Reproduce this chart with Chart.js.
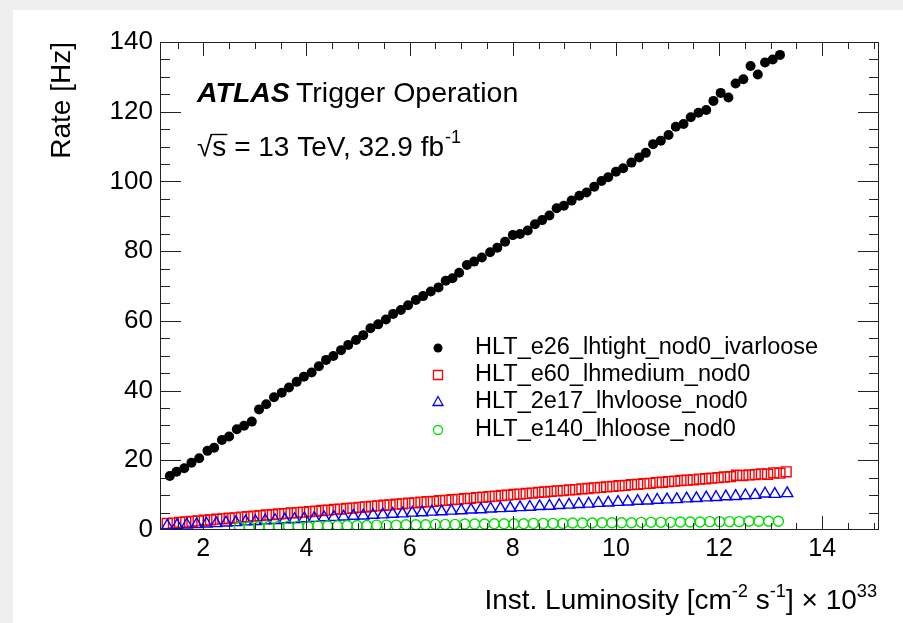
<!DOCTYPE html>
<html>
<head>
<meta charset="utf-8">
<script src="https://cdn.jsdelivr.net/npm/chart.js@4.4.1/dist/chart.umd.min.js"></script>
<style>
  html, body { margin: 0; padding: 0; background: #efefef; }
  canvas { display: block; }
</style>
</head>
<body>
<canvas id="taxa-lumi" width="903" height="623"></canvas>
<script>
// valores (luminosidade x 10^33, taxa em Hz)
const lumiTight = [1.35, 1.48, 1.63, 1.77, 1.92, 2.08, 2.21, 2.36, 2.50, 2.65,
  2.79, 2.94, 3.08, 3.22, 3.37, 3.52, 3.66, 3.81, 3.95, 4.10,
  4.24, 4.38, 4.52, 4.67, 4.81, 4.96, 5.10, 5.24, 5.39, 5.54,
  5.68, 5.83, 5.97, 6.12, 6.26, 6.41, 6.56, 6.70, 6.83, 6.96,
  7.11, 7.25, 7.40, 7.56, 7.70, 7.85, 8.00, 8.14, 8.29, 8.43,
  8.57, 8.71, 8.85, 8.99, 9.14, 9.29, 9.43, 9.58, 9.72, 9.85,
  10.00, 10.14, 10.30, 10.45, 10.58, 10.72, 10.87, 11.02, 11.16, 11.31,
  11.45, 11.60, 11.75, 11.89, 12.03, 12.18, 12.32, 12.47, 12.61, 12.75,
  12.89, 13.04, 13.18];
const rateTight = [15.5, 16.7, 17.7, 19.3, 20.6, 22.7, 23.6, 25.8, 26.8, 28.9,
  29.9, 31.1, 34.6, 36.1, 38.1, 39.4, 40.9, 42.5, 44.0, 45.2,
  47.0, 48.8, 49.9, 51.6, 53.1, 54.5, 55.9, 57.9, 59.0, 60.4,
  62.0, 63.1, 64.5, 66.0, 67.1, 68.4, 69.6, 71.5, 72.2, 73.8,
  76.0, 77.0, 78.2, 79.7, 81.0, 82.7, 84.6, 84.9, 85.9, 87.7,
  88.9, 90.2, 92.3, 93.0, 94.5, 95.9, 96.8, 98.5, 100.1, 101.2,
  102.8, 103.8, 105.4, 106.9, 108.2, 110.7, 111.7, 113.3, 115.7, 116.5,
  118.4, 119.7, 120.5, 123.1, 125.4, 124.1, 128.1, 129.3, 133.1, 130.7,
  134.1, 135.0, 136.3];

const lumiMedium = [1.30, 1.42, 1.54, 1.66, 1.78, 1.90, 2.02, 2.14, 2.26, 2.38,
  2.50, 2.62, 2.74, 2.86, 2.98, 3.10, 3.22, 3.34, 3.46, 3.58,
  3.70, 3.82, 3.94, 4.06, 4.18, 4.30, 4.42, 4.54, 4.66, 4.78,
  4.90, 5.02, 5.14, 5.26, 5.38, 5.50, 5.62, 5.74, 5.86, 5.98,
  6.10, 6.22, 6.34, 6.46, 6.58, 6.70, 6.82, 6.94, 7.06, 7.18,
  7.30, 7.42, 7.54, 7.66, 7.78, 7.90, 8.02, 8.14, 8.26, 8.38,
  8.50, 8.62, 8.74, 8.86, 8.98, 9.10, 9.22, 9.34, 9.46, 9.58,
  9.70, 9.82, 9.94, 10.06, 10.18, 10.30, 10.42, 10.54, 10.66, 10.78,
  10.90, 11.02, 11.14, 11.26, 11.38, 11.50, 11.62, 11.74, 11.86, 11.98,
  12.10, 12.22, 12.34, 12.46, 12.58, 12.70, 12.82, 12.94, 13.06, 13.18,
  13.30];
const rateMedium = [1.9, 2.0, 2.2, 2.3, 2.5, 2.6, 2.8, 2.9, 3.1, 3.2,
  3.4, 3.5, 3.7, 3.8, 4.0, 4.1, 4.3, 4.4, 4.6, 4.7,
  4.9, 5.0, 5.1, 5.3, 5.4, 5.6, 5.7, 5.9, 6.0, 6.2,
  6.3, 6.5, 6.6, 6.8, 6.9, 7.1, 7.2, 7.4, 7.5, 7.7,
  7.8, 8.0, 8.1, 8.2, 8.4, 8.5, 8.7, 8.8, 9.0, 9.1,
  9.3, 9.4, 9.6, 9.7, 9.9, 10.0, 10.2, 10.3, 10.5, 10.6,
  10.8, 10.9, 11.1, 11.2, 11.3, 11.5, 11.6, 11.8, 11.9, 12.1,
  12.2, 12.4, 12.5, 12.7, 12.8, 13.0, 13.1, 13.3, 13.4, 13.6,
  13.7, 13.9, 14.0, 14.2, 14.3, 14.4, 14.6, 14.7, 14.9, 15.0,
  15.2, 15.3, 15.7, 15.6, 15.8, 15.9, 16.1, 16.0, 16.4, 16.3,
  16.7];

const lumiVloose = [1.30, 1.49, 1.68, 1.87, 2.06, 2.25, 2.44, 2.63, 2.82, 3.01,
  3.20, 3.39, 3.58, 3.77, 3.96, 4.15, 4.34, 4.53, 4.72, 4.91,
  5.10, 5.29, 5.48, 5.67, 5.86, 6.05, 6.24, 6.43, 6.62, 6.81,
  7.00, 7.19, 7.38, 7.57, 7.76, 7.95, 8.14, 8.33, 8.52, 8.71,
  8.90, 9.09, 9.28, 9.47, 9.66, 9.85, 10.04, 10.23, 10.42, 10.61,
  10.80, 10.99, 11.18, 11.37, 11.56, 11.75, 11.94, 12.13, 12.32, 12.51,
  12.70, 12.89, 13.08, 13.32];
const rateVloose = [1.2, 1.3, 1.5, 1.6, 1.8, 1.9, 2.1, 2.2, 2.4, 2.5,
  2.7, 2.8, 3.0, 3.1, 3.3, 3.4, 3.6, 3.7, 3.8, 4.0,
  4.1, 4.3, 4.4, 4.6, 4.7, 4.9, 5.0, 5.2, 5.3, 5.5,
  5.6, 5.8, 5.9, 6.1, 6.2, 6.3, 6.5, 6.6, 6.8, 6.9,
  7.1, 7.2, 7.4, 7.5, 7.7, 7.8, 8.0, 8.1, 8.3, 8.4,
  8.6, 8.7, 8.8, 9.0, 9.1, 9.3, 9.4, 9.6, 9.7, 9.9,
  10.0, 10.4, 10.3, 10.5];

const lumiLoose = [2.70, 2.89, 3.08, 3.27, 3.46, 3.65, 3.84, 4.03, 4.22, 4.41,
  4.60, 4.79, 4.98, 5.17, 5.36, 5.55, 5.74, 5.93, 6.12, 6.31,
  6.50, 6.69, 6.88, 7.07, 7.26, 7.45, 7.64, 7.83, 8.02, 8.21,
  8.40, 8.59, 8.78, 8.97, 9.16, 9.35, 9.54, 9.73, 9.92, 10.11,
  10.30, 10.49, 10.68, 10.87, 11.06, 11.25, 11.44, 11.63, 11.82, 12.01,
  12.20, 12.39, 12.58, 12.77, 12.96, 13.15];
const rateLoose = [0.9, 0.9, 1.0, 1.0, 1.0, 1.1, 1.1, 1.1, 1.2, 1.2,
  1.2, 1.3, 1.3, 1.3, 1.4, 1.4, 1.4, 1.5, 1.5, 1.5,
  1.6, 1.6, 1.6, 1.7, 1.7, 1.7, 1.8, 1.8, 1.8, 1.8,
  1.9, 1.9, 1.9, 1.9, 2.0, 2.0, 2.0, 2.1, 2.1, 2.1,
  2.1, 2.2, 2.2, 2.2, 2.2, 2.3, 2.3, 2.3, 2.4, 2.4,
  2.4, 2.4, 2.5, 2.5, 2.5, 2.5];

const nomes = ['HLT_e26_lhtight_nod0_ivarloose', 'HLT_e60_lhmedium_nod0',
  'HLT_2e17_lhvloose_nod0', 'HLT_e140_lhloose_nod0'];
const ticksX = [2, 4, 6, 8, 10, 12, 14];
const ticksY = [0, 20, 40, 60, 80, 100, 120, 140];

const FONTE = "'Liberation Sans', Arial, Helvetica, sans-serif";
const cores = ['#000000', '#ff0000', '#0000ff', '#00dd00'];

function pares(xs, ys) {
  return xs.map((v, i) => ({ x: v, y: ys[i] }));
}

// marcador da legenda, no mesmo estilo dos pontos
function marcador(ctx, tipo, x, y, cor) {
  ctx.save();
  ctx.strokeStyle = cor;
  ctx.fillStyle = cor;
  ctx.lineWidth = 1.3;
  ctx.beginPath();
  if (tipo === 'ponto') {
    ctx.arc(x, y, 4.5, 0, Math.PI * 2);
    ctx.fill();
  } else if (tipo === 'quadrado') {
    ctx.rect(x - 4.5, y - 4.5, 9, 9);
    ctx.stroke();
  } else if (tipo === 'triangulo') {
    ctx.moveTo(x, y - 5.5);
    ctx.lineTo(x + 5, y + 3.5);
    ctx.lineTo(x - 5, y + 3.5);
    ctx.closePath();
    ctx.stroke();
  } else {
    ctx.arc(x, y, 4.5, 0, Math.PI * 2);
    ctx.stroke();
  }
  ctx.restore();
}

// texto com pedacos em expoente
function textoComExpoente(ctx, partes, xFim, base, tam) {
  let total = 0;
  partes.forEach(p => {
    ctx.font = (p.sup ? tam * 0.65 : tam) + 'px ' + FONTE;
    p.w = ctx.measureText(p.t).width;
    total += p.w;
  });
  let x = xFim - total;
  partes.forEach(p => {
    ctx.font = (p.sup ? tam * 0.65 : tam) + 'px ' + FONTE;
    ctx.fillText(p.t, x, p.sup ? base - tam * 0.42 : base);
    x += p.w;
  });
}

const moldura = {
  id: 'moldura',
  beforeDraw(chart) {
    const ctx = chart.ctx;
    ctx.save();
    ctx.fillStyle = '#efefef';
    ctx.fillRect(0, 0, chart.width, chart.height);
    ctx.fillStyle = '#ffffff';
    ctx.fillRect(13, 10, chart.width - 13, chart.height - 10);
    ctx.restore();
  },
  afterDraw(chart) {
    const ctx = chart.ctx;
    const a = chart.chartArea;
    const sx = chart.scales.x;
    const sy = chart.scales.y;
    ctx.save();
    ctx.strokeStyle = '#222222';
    ctx.lineWidth = 1;
    ctx.beginPath();
    for (let v = 1.5; v < 15.05; v += 0.5) {
      const px = Math.round(sx.getPixelForValue(v)) + 0.5;
      const len = Math.abs(v / 2 - Math.round(v / 2)) < 1e-6 ? 14 : 7;
      ctx.moveTo(px, a.bottom); ctx.lineTo(px, a.bottom - len);
      ctx.moveTo(px, a.top); ctx.lineTo(px, a.top + len);
    }
    for (let v = 5; v < 140; v += 5) {
      const py = Math.round(sy.getPixelForValue(v)) + 0.5;
      const len = v % 20 === 0 ? 21 : 10;
      ctx.moveTo(a.left, py); ctx.lineTo(a.left + len, py);
      ctx.moveTo(a.right, py); ctx.lineTo(a.right - len, py);
    }
    ctx.stroke();
    ctx.strokeRect(Math.round(a.left) + 0.5, Math.round(a.top) + 0.5,
      Math.round(a.width) - 1, Math.round(a.height) - 1);

    // legenda
    const tipos = ['ponto', 'quadrado', 'triangulo', 'circulo'];
    const linhas = [348, 375, 402, 430];
    ctx.fillStyle = '#000';
    ctx.textBaseline = 'middle';
    ctx.font = '23.5px ' + FONTE;
    nomes.forEach((n, i) => {
      marcador(ctx, tipos[i], 438, linhas[i], cores[i]);
      ctx.fillStyle = '#000';
      ctx.fillText(n, 475, linhas[i]);
    });

    // textos ATLAS
    ctx.textBaseline = 'alphabetic';
    ctx.font = 'italic bold 28.5px ' + FONTE;
    ctx.fillText('ATLAS', 197, 102);
    ctx.font = '28.5px ' + FONTE;
    ctx.fillText('Trigger Operation', 296, 102);
    ctx.font = '28px ' + FONTE;
    const t1 = '\u221As = 13 TeV, 32.9 fb';
    ctx.fillText(t1, 197, 156);
    const w1 = ctx.measureText(t1).width;
    const wr = ctx.measureText('\u221A').width;
    const ws = ctx.measureText('s').width;
    ctx.font = '18px ' + FONTE;
    ctx.fillText('-1', 197 + w1 + 1, 143);
    // barra da raiz sobre o s
    ctx.lineWidth = 1.4;
    ctx.strokeStyle = '#000';
    ctx.beginPath();
    ctx.moveTo(197 + wr - 1, 134.5);
    ctx.lineTo(197 + wr + ws + 1, 134.5);
    ctx.stroke();

    // titulos dos eixos
    ctx.fillStyle = '#000';
    textoComExpoente(ctx, [
      { t: 'Inst. Luminosity [cm' }, { t: '-2', sup: true }, { t: ' s' },
      { t: '-1', sup: true }, { t: '] \u00D7 10' }, { t: '33', sup: true }
    ], 877, 609, 28);

    ctx.save();
    ctx.translate(70, 42);
    ctx.rotate(-Math.PI / 2);
    ctx.font = '28px ' + FONTE;
    ctx.textAlign = 'right';
    ctx.fillText('Rate [Hz]', 0, 0);
    ctx.restore();

    ctx.restore();
  }
};

const grafico = document.getElementById('taxa-lumi');

new Chart(grafico, {
  type: 'scatter',
  data: {
    datasets: [{
      label: nomes[0],
      data: pares(lumiTight, rateTight),
      pointStyle: 'circle',
      pointRadius: 5,
      backgroundColor: cores[0],
      borderColor: cores[0],
      borderWidth: 0,
      order: 4
    }, {
      label: nomes[1],
      data: pares(lumiMedium, rateMedium),
      pointStyle: 'rect',
      pointRadius: 7,
      backgroundColor: 'rgba(0,0,0,0)',
      borderColor: cores[1],
      borderWidth: 1.4,
      order: 3
    }, {
      label: nomes[2],
      data: pares(lumiVloose, rateVloose),
      pointStyle: 'triangle',
      pointRadius: 6.5,
      backgroundColor: 'rgba(0,0,0,0)',
      borderColor: cores[2],
      borderWidth: 1.4,
      order: 2
    }, {
      label: nomes[3],
      data: pares(lumiLoose, rateLoose),
      pointStyle: 'circle',
      pointRadius: 5,
      backgroundColor: 'rgba(0,0,0,0)',
      borderColor: cores[3],
      borderWidth: 1.4,
      order: 1
    }]
  },
  options: {
    responsive: false,
    animation: false,
    devicePixelRatio: 1,
    events: [],
    layout: { padding: { top: 42, right: 24, left: 0, bottom: 0 } },
    plugins: {
      legend: { display: false },
      tooltip: { enabled: false }
    },
    scales: {
      x: {
        type: 'linear',
        min: 1.16,
        max: 15.1,
        grid: { display: false, drawTicks: false },
        border: { display: false },
        ticks: { color: '#000', padding: 4, font: { family: FONTE, size: 25 } },
        afterBuildTicks: (s) => { s.ticks = ticksX.map(v => ({ value: v })); },
        afterFit: (s) => { s.height = 93; }
      },
      y: {
        min: 0,
        max: 140,
        grid: { display: false, drawTicks: false },
        border: { display: false },
        ticks: { color: '#000', padding: 7, font: { family: FONTE, size: 26 } },
        afterBuildTicks: (s) => { s.ticks = ticksY.map(v => ({ value: v })); },
        afterFit: (s) => { s.width = 160; }
      }
    }
  },
  plugins: [moldura]
});
</script>
</body>
</html>
